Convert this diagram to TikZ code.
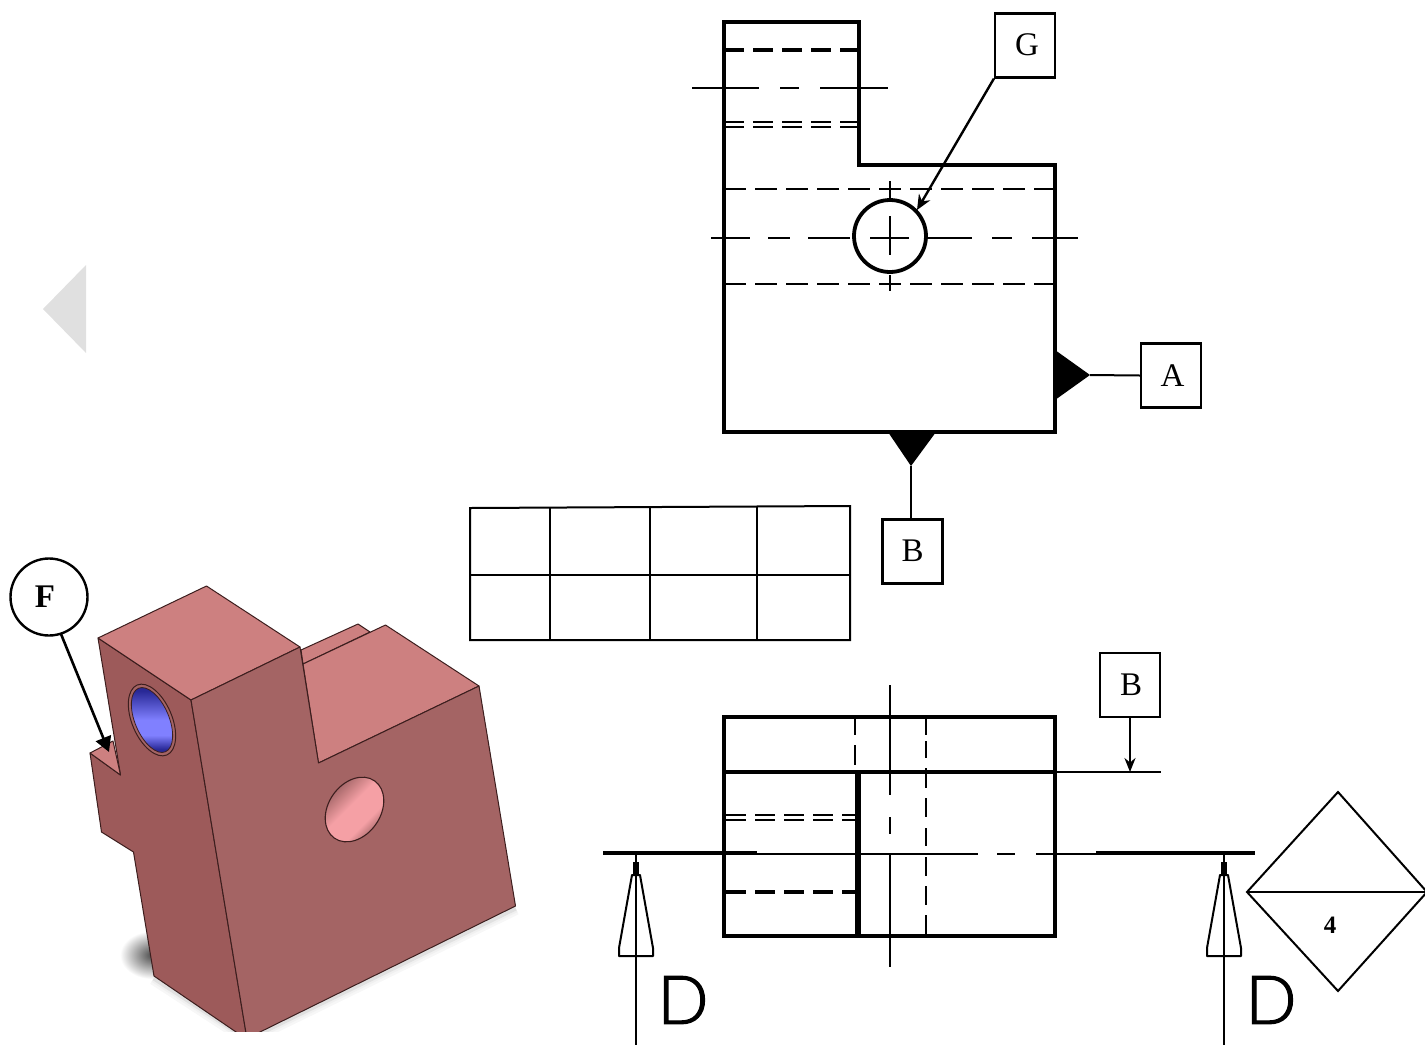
\documentclass[tikz,border=0pt]{standalone}
\usepackage{fontspec}
\setmainfont{Liberation Serif}
\newfontfamily\dfont[FakeBold=2]{Lato Light}
\usetikzlibrary{arrows.meta}
\definecolor{topc}{RGB}{205,128,128}
\definecolor{frontc}{RGB}{164,100,100}
\definecolor{leftc}{RGB}{157,90,90}
\definecolor{edgec}{RGB}{60,30,30}
\definecolor{bluedark}{RGB}{40,40,150}
\definecolor{bluelight}{RGB}{128,128,255}
\definecolor{pinkdark}{RGB}{140,85,85}
\definecolor{pinklight}{RGB}{245,160,165}
\pgfdeclareverticalshading{holeblue}{100bp}{color(0bp)=(bluedark); color(27bp)=(bluedark); color(38bp)=(bluelight); color(50bp)=(bluelight); color(73bp)=(bluedark); color(100bp)=(bluedark)}
\pgfdeclareverticalshading{holepink}{100bp}{color(0bp)=(pinkdark); color(25bp)=(pinkdark); color(38bp)=(pinklight); color(54bp)=(pinklight); color(75bp)=(pinkdark); color(100bp)=(pinkdark)}
\tikzset{
  heavy/.style={line width=4pt,line join=miter,line cap=round},
  midline/.style={line width=2pt},
  thinl/.style={line width=2pt},
  dashl/.style={line width=2pt,dash pattern=on 22pt off 9pt},
  dbl/.style={line width=1.6pt,dash pattern=on 20pt off 9pt},
  thickdash/.style={line width=3.6pt,dash pattern=on 20pt off 9pt},
  facet/.style={draw=edgec,line width=1pt,line join=round},
  boxn/.style={draw,line width=2.2pt,minimum width=60pt,minimum height=64pt,inner sep=0pt,font=\fontsize{33}{35}\selectfont},
  leader/.style={line width=2.4pt,-{Stealth[length=15pt,width=13pt]}},
  fleader/.style={line width=2.6pt,-{Triangle[length=15pt,width=16pt]}},
  hollow/.style={draw,line width=2pt,fill=white,line join=round},
  dletter/.style={inner sep=0pt,font=\fontsize{67}{70}\dfont},
}
\begin{document}
\begin{tikzpicture}[x=1pt,y=-1pt]
\useasboundingbox (0,0) rectangle (1425,1045);
% left marker
\fill[black!12] (86,265) -- (43,309) -- (86,353) -- cycle;
% 3D part
\begin{scope}
\clip (0,540) rectangle (560,1031);
\shade[inner color=black!70,outer color=white] (152,955) ellipse [x radius=32,y radius=24];
\foreach \w/\g in {14/3,9/6,5/12}{
  \draw[line width=\w pt,black!\g] (515.5,908) -- (258,1034);
  \draw[line width=\w pt,black!\g] (154,978) -- (240,1034);
}
% left face
\filldraw[facet,fill=leftc] (98,638) -- (191,700) -- (246,1033) -- (237.5,1033) -- (154,976) -- (133.5,852) -- (101.5,832) -- (90,753) -- (120.5,775) -- cycle;
% small ledge
\filldraw[facet,fill=topc] (90,753) -- (113,741) -- (120.5,775) -- cycle;
% back strip
\filldraw[facet,fill=topc] (301,650) -- (358,624) -- (370,632) -- (303,664) -- cycle;
% lower top face
\filldraw[facet,fill=topc] (303,664) -- (385.5,625) -- (479,686) -- (318.5,763) -- cycle;
% upper top face
\filldraw[facet,fill=topc] (98,638) -- (206.5,586) -- (300,647) -- (191,700) -- cycle;
% front face
\filldraw[facet,fill=frontc] (191,700) -- (300,647) -- (318.5,763) -- (479,686) -- (515.5,906) -- (258,1033) -- (246,1033) -- cycle;
% hole in left face
\begin{scope}[shift={(152,720)},rotate=23]
\filldraw[facet,fill=frontc] (0,0) ellipse [x radius=20,y radius=38];
\shade[shading=holeblue] (0,0) ellipse [x radius=17,y radius=34.5];
\draw[edgec,line width=0.8pt] (0,0) ellipse [x radius=17,y radius=34.5];
\end{scope}
% hole in front face
\begin{scope}[shift={(354.5,809.5)},rotate=-35]
\shade[shading=holepink,shading angle=45] (0,0) ellipse [x radius=26,y radius=35];
\draw[edgec,line width=1.1pt] (0,0) ellipse [x radius=26,y radius=35];
\end{scope}
\end{scope}
% callout F
\node[draw,circle,line width=2.4pt,minimum size=77pt,inner sep=0pt,font=\bfseries\fontsize{33}{35}\selectfont] (F) at (49,597) {\hspace{-8pt}F};
\coordinate (Ftip) at (109,752);
\draw[fleader] (F) ++(12,37) coordinate (Fs) -- (Ftip);
% table
\draw[midline,line join=miter] (470,508) -- (850,506) -- (850,640) -- (470,640) -- cycle;
\draw[midline] (470,575) -- (850,575);
\draw[midline] (550,507.5) -- (550,640) (650,507) -- (650,640) (757,506.5) -- (757,640);
% top view
\draw[heavy] (724,22) -- (859,22) -- (859,165) -- (1055,165) -- (1055,432) -- (724,432) -- cycle;
\draw[thickdash] (724,50) -- (859,50);
\draw[dbl] (724,122) -- (859,122) (724,127) -- (859,127);
\draw[dashl] (724,189) -- (1055,189) (724,284) -- (1055,284);
\draw[midline] (692,88) -- (759,88) (780,88) -- (799,88) (820,88) -- (888,88);
\draw[midline] (711,238) -- (750,238) (768,238) -- (790,238) (808,238) -- (850,238) (870,238) -- (909,238) (928,238) -- (972,238) (992,238) -- (1012,238) (1032,238) -- (1078,238);
\draw[midline] (890,181) -- (890,198) (890,216) -- (890,255) (890,275) -- (890,291);
\node[draw,circle,line width=3.8pt,minimum size=72pt,inner sep=0pt] (hole) at (890,236) {};
\node[boxn] (G) at (1025,45.5) {\hspace{4pt}\raisebox{2pt}{G}};
\coordinate (Gtip) at (917,210);
\draw[leader] (G.south west) -- (Gtip);
% datum A
\node[boxn] (A) at (1171,375.5) {\hspace{3pt}A};
\coordinate (Atri) at (1090,375);
\fill (1055,350) -- (Atri) -- (1055,400) -- cycle;
\draw[midline] (Atri) -- (A.west);
% datum B upper
\node[boxn] (B1) at (912.5,551.5) {\raisebox{1pt}{B}};
\coordinate (Btri) at (911,466);
\fill (888,432) -- (936,432) -- (Btri) -- cycle;
\draw[midline] (Btri) -- (Btri |- B1.north);
% side view
\draw[heavy] (724,717) rectangle (1055,936);
\draw[heavy] (724,772) -- (1055,772);
\draw[line width=5.5pt] (858,772) -- (858,936);
\draw[midline] (855,718) -- (855,735) (855,745) -- (855,765);
\draw[midline] (926,718) -- (926,735) (926,741) -- (926,758) (926,768) -- (926,788) (926,798) -- (926,817) (926,828) -- (926,846) (926,857) -- (926,876) (926,886) -- (926,905) (926,915) -- (926,935);
\draw[midline] (890,685) -- (890,795) (890,817) -- (890,834) (890,855) -- (890,967);
\draw[dbl] (726,815) -- (856,815) (726,820) -- (856,820);
\draw[thickdash] (726,892) -- (856,892);
\node[boxn] (B2) at (1130,685) {\hspace{2pt}B};
\coordinate (Ext) at (1161,772);
\coordinate (Btip) at (B2.south |- Ext);
\draw[midline] (1055,772) -- (Ext);
\draw[line width=2.2pt,-{Stealth[length=14pt,width=11pt]}] (B2.south) -- (Btip);
% section line
\draw[line width=3.6pt] (603,853) -- (757,853) (1096,853) -- (1255,853);
\draw[midline] (757,854) -- (978,854) (997,854) -- (1015,854) (1036,854) -- (1096,854);
% section arrows
\foreach \x/\n in {636/L,1224/R}{
  \draw[thinl] (\x,853) -- (\x,1045);
  \draw[hollow] (\x-4,875) -- (\x+4,875) -- (\x+17,948) -- (\x+17,956) -- (\x-17,956) -- (\x-17,948) -- cycle;
  \draw[thinl] (\x,875) -- (\x,1045);
  \draw[line width=6pt] (\x,862) -- (\x,875);
}
\node[dletter] (DL) at (683,1000) {D};
\node[dletter] (DR) at (1271,1000) {D};
% diamond
\draw[line width=2pt,line join=miter] (1338,792) -- (1427,892) -- (1338,991) -- (1247,892) -- cycle;
\draw[line width=2pt] (1247,892) -- (1427,892);
\node[inner sep=0pt,font=\bfseries\fontsize{25}{27}\selectfont] (four) at (1330,925) {4};
\end{tikzpicture}
\end{document}
